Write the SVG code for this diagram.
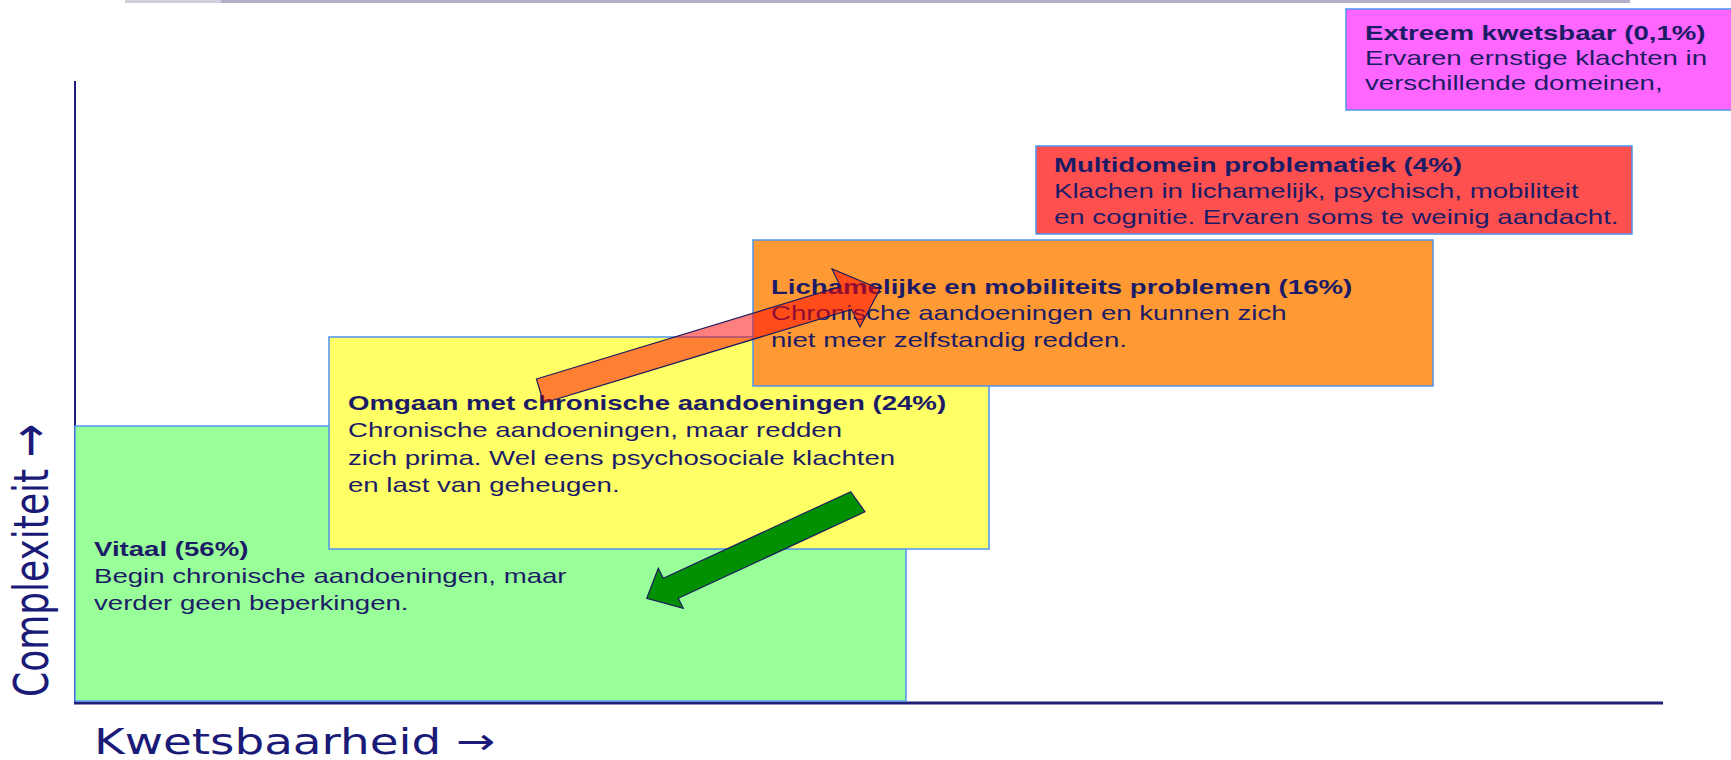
<svg xmlns="http://www.w3.org/2000/svg" width="1731" height="760" viewBox="0 0 1731 760">
<style>
.box{stroke:#4f94f0;stroke-width:1.5}
.t{font-family:"Liberation Sans",Arial,sans-serif;font-size:21px;fill:#1c1c66}
.b{font-weight:bold}
.ax{font-family:"DejaVu Sans",Verdana,sans-serif;font-size:36px;fill:#1a1a78}
.arrow{stroke:#1c1c5e;stroke-width:1.2;stroke-linejoin:miter}
</style>
<rect width="1731" height="760" fill="#ffffff"/>
<g id="topline">
<rect x="125" y="0" width="96" height="3" fill="#d0d0de"/>
<rect x="221" y="0" width="1409" height="3" fill="#b0b0c8"/>
</g>
<g id="axes">
<line x1="75" y1="81" x2="75" y2="703" stroke="#1f1f78" stroke-width="2"/>
<line x1="74" y1="703" x2="1663" y2="703" stroke="#1f1f78" stroke-width="3"/>
<text class="ax" transform="translate(94,754) scale(1.3,1)">Kwetsbaarheid →</text>
<text class="ax" transform="translate(48,697) scale(1.35,1) rotate(-90)">Complexiteit <tspan font-size="40">→</tspan></text>
</g>
<g id="vitaal">
<rect class="box" x="75" y="426" width="831" height="275" fill="#99ff99"/>
<g class="t" transform="translate(94,0) scale(1.315,1)">
<text class="b" y="556">Vitaal (56%)</text>
<text y="583">Begin chronische aandoeningen, maar</text>
<text y="610">verder geen beperkingen.</text>
</g>
</g>
<g id="omgaan">
<rect class="box" x="329" y="337" width="660" height="212" fill="#ffff66"/>
<g class="t" transform="translate(348,0) scale(1.315,1)">
<text class="b" y="410">Omgaan met chronische aandoeningen (24%)</text>
<text y="437.5">Chronische aandoeningen, maar redden</text>
<text y="465">zich prima. Wel eens psychosociale klachten</text>
<text y="492">en last van geheugen.</text>
</g>
</g>
<g id="lichamelijk">
<rect class="box" x="753" y="240" width="680" height="146" fill="#ff9933"/>
<g class="t" transform="translate(771,0) scale(1.315,1)">
<text class="b" y="294">Lichamelijke en mobiliteits problemen (16%)</text>
<text y="320">Chronische aandoeningen en kunnen zich</text>
<text y="347">niet meer zelfstandig redden.</text>
</g>
</g>
<g id="multidomein">
<rect class="box" x="1036" y="146" width="596" height="88" fill="#ff5050"/>
<g class="t" transform="translate(1054,0) scale(1.315,1)">
<text class="b" y="172">Multidomein problematiek (4%)</text>
<text y="198">Klachen in lichamelijk, psychisch, mobiliteit</text>
<text y="224">en cognitie. Ervaren soms te weinig aandacht.</text>
</g>
</g>
<g id="extreem">
<rect class="box" x="1346" y="9" width="390" height="101" fill="#ff66ff"/>
<g class="t" transform="translate(1365,0) scale(1.315,1)">
<text class="b" y="40">Extreem kwetsbaar (0,1%)</text>
<text y="65">Ervaren ernstige klachten in</text>
<text y="90">verschillende domeinen,</text>
</g>
</g>
<g id="connectors">
<polygon class="arrow" fill="#ff0000" fill-opacity="0.5" points="536.4,379 840.5,286.6 832,269 880,289 860,327 851.5,309.4 543.6,403"/>
<polygon class="arrow" fill="#009000" points="850.7,491.7 663.3,578.3 658.3,568.3 646.7,598.3 683.3,608.3 678.3,598.3 865,511.7"/>
</g>
</svg>
